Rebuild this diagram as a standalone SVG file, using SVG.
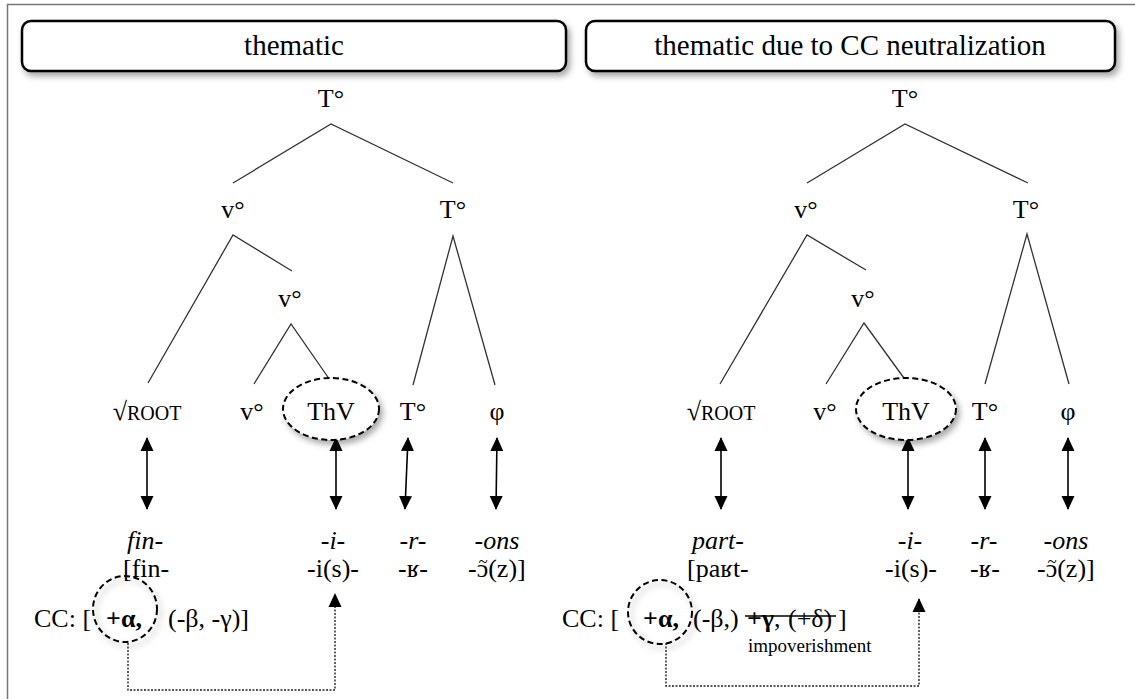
<svg xmlns="http://www.w3.org/2000/svg" width="1135" height="699" viewBox="0 0 1135 699">
  <defs>
    <filter id="shadow" x="-10%" y="-20%" width="130%" height="160%">
      <feDropShadow dx="3" dy="4" stdDeviation="3" flood-color="#000" flood-opacity="0.35"/>
    </filter>
    <marker id="head" viewBox="0 0 14 14" refX="13" refY="7" markerWidth="14" markerHeight="14" markerUnits="userSpaceOnUse" orient="auto-start-reverse">
      <path d="M0,0.5 L14,7 L0,13.5 Z" fill="#000"/>
    </marker>
    <style>
      text { font-family: "Liberation Serif", "Times New Roman", serif; fill: #000; }
      .hdr { font-size: 29px; text-anchor: middle; }
      .lab { font-size: 26px; text-anchor: middle; }
      .row { font-size: 26px; }
      .it { font-style: italic; }
      .bold { font-weight: bold; }
      .small { font-size: 19px; }
      .tilde { font-size: 17px; text-anchor: middle; }
      .box { fill: #fff; stroke: #000; stroke-width: 2.5; }
      .ring { fill: #fff; stroke: #000; stroke-width: 2; stroke-dasharray: 6 3.5; }
      .ring-open { fill: none; stroke: #000; stroke-width: 2; stroke-dasharray: 6 3.5; }
      .branch { stroke: #333; stroke-width: 1.3; fill: none; }
      .link { stroke: #000; stroke-width: 1.6; fill: none; marker-start: url(#head); marker-end: url(#head); }
      .dot { stroke: #222; stroke-width: 1.4; fill: none; stroke-dasharray: 2 1.5; marker-end: url(#head); }
      .frame { stroke: #777; stroke-width: 1.5; fill: none; }
    </style>
  </defs>

  <rect width="1135" height="699" fill="#fff"/>
  <path class="frame" d="M7.5,699 V4.5 H1135"/>

  <!-- section headers -->
  <g id="header-thematic">
    <rect class="box" x="22" y="21" width="544" height="50" rx="9" filter="url(#shadow)"/>
    <text class="hdr" x="294" y="55">thematic</text>
  </g>
  <g id="header-neutralization">
    <rect class="box" x="586" y="21" width="529" height="50" rx="9" filter="url(#shadow)"/>
    <text class="hdr" x="850" y="55">thematic due to CC neutralization</text>
  </g>

  <!-- tree branches and correspondence arrows -->
  <g id="connectors">
    <!-- left tree -->
    <path class="branch" d="M233,183 L331,124 L453,183"/>
    <path class="branch" d="M148,383 L233,235 L292,271"/>
    <path class="branch" d="M254,384 L291,324 L332,383"/>
    <path class="branch" d="M413,385 L453,236 L495,385"/>
    <!-- right tree -->
    <path class="branch" d="M807,183 L905,124 L1028,183"/>
    <path class="branch" d="M720,384 L807,235 L866,270"/>
    <path class="branch" d="M826,384 L864,323 L909,385"/>
    <path class="branch" d="M985,384 L1027,234 L1069,384"/>

    <!-- left vocabulary links -->
    <line class="link" x1="147" y1="438" x2="147" y2="509"/>
    <line class="link" x1="336" y1="438" x2="336" y2="509"/>
    <line class="link" x1="408" y1="438" x2="405" y2="509"/>
    <line class="link" x1="497" y1="438" x2="496" y2="509"/>
    <!-- right vocabulary links -->
    <line class="link" x1="721" y1="438" x2="721" y2="509"/>
    <line class="link" x1="908" y1="438" x2="908" y2="509"/>
    <line class="link" x1="985" y1="438" x2="985" y2="509"/>
    <line class="link" x1="1068" y1="438" x2="1068" y2="509"/>

    <!-- conjugation class feature to theme vowel -->
    <path class="dot" d="M128,643 V690 H335 V594"/>
    <path class="dot" d="M666,643 V686 H919 V599"/>
  </g>

  <!-- left tree nodes -->
  <g id="left-T-top"><text class="lab" x="331" y="107">T°</text></g>
  <g id="left-v-1"><text class="lab" x="233" y="218">v°</text></g>
  <g id="left-T-2"><text class="lab" x="453" y="218">T°</text></g>
  <g id="left-v-2"><text class="lab" x="290" y="307">v°</text></g>
  <g id="left-root"><text class="lab" x="147" y="420">√<tspan font-size="20">ROOT</tspan></text></g>
  <g id="left-v-3"><text class="lab" x="252" y="420">v°</text></g>
  <g id="left-thv">
    <ellipse class="ring" cx="331" cy="409" rx="48" ry="31" filter="url(#shadow)"/>
    <text class="lab" x="331" y="420">ThV</text>
  </g>
  <g id="left-T-3"><text class="lab" x="413" y="420">T°</text></g>
  <g id="left-phi"><text class="lab" x="497" y="420">φ</text></g>

  <!-- right tree nodes -->
  <g id="right-T-top"><text class="lab" x="905" y="107">T°</text></g>
  <g id="right-v-1"><text class="lab" x="806" y="218">v°</text></g>
  <g id="right-T-2"><text class="lab" x="1026" y="218">T°</text></g>
  <g id="right-v-2"><text class="lab" x="863" y="307">v°</text></g>
  <g id="right-root"><text class="lab" x="721" y="420">√<tspan font-size="20">ROOT</tspan></text></g>
  <g id="right-v-3"><text class="lab" x="825" y="420">v°</text></g>
  <g id="right-thv">
    <ellipse class="ring" cx="906" cy="409" rx="50" ry="31" filter="url(#shadow)"/>
    <text class="lab" x="906" y="420">ThV</text>
  </g>
  <g id="right-T-3"><text class="lab" x="985" y="420">T°</text></g>
  <g id="right-phi"><text class="lab" x="1068" y="420">φ</text></g>

  <!-- left exponents -->
  <g id="left-exponents">
    <text class="lab it" x="145" y="549">fin-</text>
    <text class="row" x="123" y="577">[fin-</text>
    <text class="lab it" x="333" y="549">-i-</text>
    <text class="lab" x="333" y="577">-i(s)-</text>
    <text class="lab it" x="413" y="549">-r-</text>
    <text class="lab" x="413" y="577">-ʁ-</text>
    <text class="lab it" x="497" y="549">-ons</text>
    <!-- nasal vowel: tilde set over the open o -->
    <text class="row" x="468" y="577">-ɔ(z)]</text>
    <text class="tilde" x="483" y="567">~</text>
  </g>
  <g id="left-cc">
    <ellipse class="ring-open" cx="125" cy="609" rx="32" ry="33" filter="url(#shadow)"/>
    <text class="row" x="34" y="627">CC: [</text>
    <text class="row bold" x="124" y="627" text-anchor="middle">+α,</text>
    <text class="row" x="168" y="627">(-β, -γ)]</text>
  </g>

  <!-- right exponents -->
  <g id="right-exponents">
    <text class="lab it" x="718" y="549">part-</text>
    <text class="row" x="687" y="577">[paʁt-</text>
    <text class="lab it" x="910" y="549">-i-</text>
    <text class="lab" x="911" y="577">-i(s)-</text>
    <text class="lab it" x="984" y="549">-r-</text>
    <text class="lab" x="985" y="577">-ʁ-</text>
    <text class="lab it" x="1066" y="549">-ons</text>
    <text class="row" x="1037" y="577">-ɔ(z)]</text>
    <text class="tilde" x="1052" y="567">~</text>
  </g>
  <g id="right-cc">
    <ellipse class="ring-open" cx="660" cy="612" rx="32" ry="32" filter="url(#shadow)"/>
    <text class="row" x="562" y="627">CC: [</text>
    <text class="row bold" x="661" y="627" text-anchor="middle">+α,</text>
    <text class="row" x="693" y="627">(-β,)</text>
    <text class="row" x="747" y="627"><tspan font-weight="bold">+γ</tspan>,<tspan x="788">(+δ)</tspan></text>
    <line x1="745" y1="616" x2="836" y2="616" stroke="#000" stroke-width="1.5"/>
    <text class="row" x="838" y="627">]</text>
    <text class="small" x="748" y="652">impoverishment</text>
  </g>
</svg>
